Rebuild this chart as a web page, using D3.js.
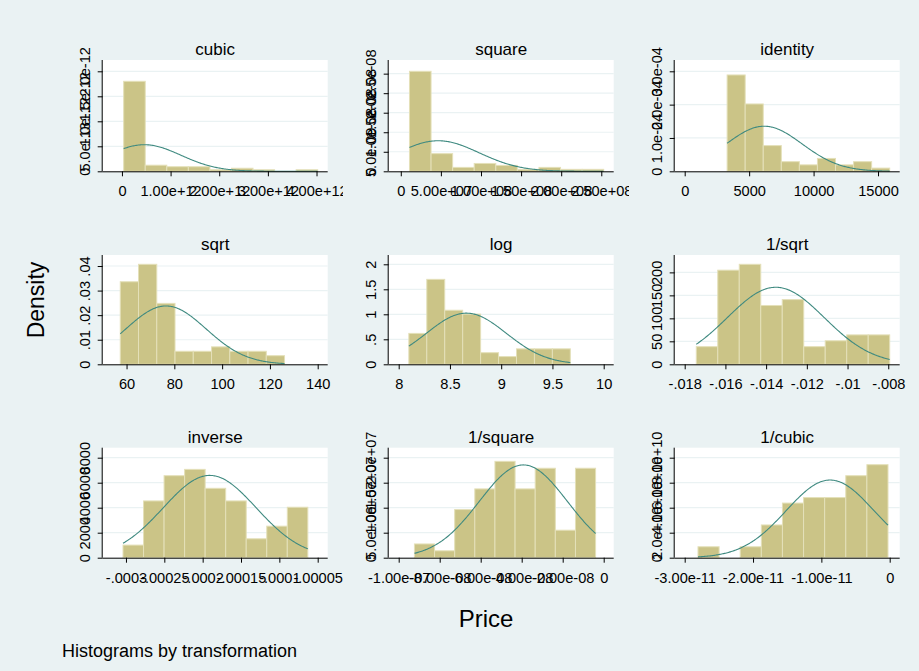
<!DOCTYPE html>
<html>
<head>
<meta charset="utf-8">
<script src="https://cdn.jsdelivr.net/npm/d3@7"></script>
<style>
  html, body { margin: 0; padding: 0; background: #eaf2f3; }
  svg { display: block; }
  text { font-family: "Liberation Sans", Arial, Helvetica, sans-serif; fill: #000; }
</style>
</head>
<body>
<svg id="chart" width="919" height="671"></svg>
<script>
// Price under the ladder of powers: 74 cars, 9 equal-width bins per panel.
const transforms = ["cubic", "square", "identity", "sqrt", "log", "1/sqrt", "inverse", "1/square", "1/cubic"];

// smallest and largest transformed value (bins run between them)
const dataMin = [3.5644e10, 1.0831e7, 3291, 57.367, 8.0990, -0.017431, -3.0386e-4, -9.2330e-8, -2.8055e-11];
const dataMax = [4.0242e12, 2.5300e8, 15906, 126.119, 9.6744, -0.007929, -6.287e-5, -3.9526e-9, -2.4850e-13];

// histogram densities, one value per bin
const densCubic    = [1.80e-12, 1.22e-13, 9.15e-14, 9.15e-14, 3.05e-14, 6.10e-14, 3.05e-14, 0, 3.05e-14];
const densSquare   = [2.56e-8, 4.52e-9, 1.00e-9, 2.01e-9, 1.51e-9, 5.0e-10, 1.00e-9, 5.0e-10, 5.0e-10];
const densIdentity = [2.89e-4, 2.02e-4, 7.71e-5, 2.89e-5, 1.93e-5, 3.86e-5, 1.93e-5, 2.89e-5, 9.6e-6];
const densSqrt     = [0.0336, 0.0407, 0.0248, 0.0053, 0.0053, 0.0071, 0.0053, 0.0053, 0.0035];
const densLog      = [0.618, 1.699, 1.081, 1.004, 0.232, 0.154, 0.309, 0.309, 0.309];
const densInvSqrt  = [38.4, 204.8, 217.6, 128.0, 140.8, 38.4, 51.2, 64.0, 64.0];
const densInverse  = [1009, 4542, 6561, 7066, 5552, 4542, 1514, 2523, 4037];
const densInvSq    = [2.75e6, 1.38e6, 9.63e6, 1.376e7, 1.927e7, 1.376e7, 1.789e7, 5.50e6, 1.789e7];
const densInvCubic = [8.75e9, 0, 8.75e9, 2.62e10, 4.37e10, 4.81e10, 4.81e10, 6.56e10, 7.44e10];
const densities = [densCubic, densSquare, densIdentity, densSqrt, densLog, densInvSqrt, densInverse, densInvSq, densInvCubic];

// fitted normal overlay: mean and standard deviation of each transformed variable
const normMean = [0.46e12, 4.67e7, 6165.3, 76.5, 8.66, -0.013525, -1.908e-4, -3.92e-8, -8.72e-12];
const normSd   = [0.75e12, 5.10e7, 2949.5, 16.8, 0.39, 0.00238, 6.06e-5, 2.15e-8, 6.42e-12];

// x-axis range of each panel
const xLo = [-0.19e12, -2.6e6, 0, 54.2, 8, -0.018, -3.173e-4, -1e-7, -3e-11];
const xHi = [4.0242e12, 2.53e8, 15906, 140, 10, -0.007929, -5e-5, 0, 0];

// axis ticks and their labels
const xTicks = [
  [0, 1e12, 2e12, 3e12, 4e12],
  [0, 5e7, 1e8, 1.5e8, 2e8, 2.5e8],
  [0, 5000, 10000, 15000],
  [60, 80, 100, 120, 140],
  [8, 8.5, 9, 9.5, 10],
  [-0.018, -0.016, -0.014, -0.012, -0.01, -0.008],
  [-3e-4, -2.5e-4, -2e-4, -1.5e-4, -1e-4, -5e-5],
  [-1e-7, -8e-8, -6e-8, -4e-8, -2e-8, 0],
  [-3e-11, -2e-11, -1e-11, 0]
];
const xTickLabels = [
  ["0", "1.00e+12", "2.00e+12", "3.00e+12", "4.00e+12"],
  ["0", "5.00e+07", "1.00e+08", "1.50e+08", "2.00e+08", "2.50e+08"],
  ["0", "5000", "10000", "15000"],
  ["60", "80", "100", "120", "140"],
  ["8", "8.5", "9", "9.5", "10"],
  ["-.018", "-.016", "-.014", "-.012", "-.01", "-.008"],
  ["-.0003", "-.00025", "-.0002", "-.00015", "-.0001", "-.00005"],
  ["-1.00e-07", "-8.00e-08", "-6.00e-08", "-4.00e-08", "-2.00e-08", "0"],
  ["-3.00e-11", "-2.00e-11", "-1.00e-11", "0"]
];
const yTicks = [
  [0, 5e-13, 1e-12, 1.5e-12, 2e-12],
  [0, 5e-9, 1e-8, 1.5e-8, 2e-8, 2.5e-8],
  [0, 1e-4, 2e-4, 3e-4],
  [0, 0.01, 0.02, 0.03, 0.04],
  [0, 0.5, 1, 1.5, 2],
  [0, 50, 100, 150, 200],
  [0, 2000, 4000, 6000, 8000],
  [0, 5e6, 1e7, 1.5e7, 2e7],
  [0, 2e10, 4e10, 6e10, 8e10]
];
const yTickLabels = [
  ["0", "5.0e-13", "1.0e-12", "1.5e-12", "2.0e-12"],
  ["0", "5.0e-09", "1.0e-08", "1.5e-08", "2.0e-08", "2.5e-08"],
  ["0", "1.0e-04", "2.0e-04", "3.0e-04"],
  ["0", ".01", ".02", ".03", ".04"],
  ["0", ".5", "1", "1.5", "2"],
  ["0", "50", "100", "150", "200"],
  ["0", "2000", "4000", "6000", "8000"],
  ["0", "5.0e+06", "1.0e+07", "1.5e+07", "2.0e+07"],
  ["0", "2.0e+10", "4.0e+10", "6.0e+10", "8.0e+10"]
];

const yTitle = "Density";
const xTitle = "Price";
const note = "Histograms by transformation";

// ---- layout ----
const colLeft = [102.7, 388.7, 674.7];
const plotW = 225;
const cellLeft = -45.7, cellRight = 240.3;   // each sub-graph's horizontal extent, relative to its plot
const rowTop = [60, 255, 447.7];
const rowBottom = [171.3, 364.3, 557.7];
const padX = 10;          // inner margin of the plot region along x
const scaleH = 100;       // pixel height of the y range
const nBins = 9;

const colors = {
  bg: "#eaf2f3",
  plot: "#ffffff",
  grid: "#eaf2f3",
  barFill: "#cbc487",
  barLine: "#e4e0b9",
  normal: "#3f8a80",
  axis: "#000000"
};

const svg = d3.select("#chart");
svg.append("rect").attr("width", 919).attr("height", 671).attr("fill", colors.bg);
const defs = svg.append("defs");

transforms.forEach((name, i) => {
  const col = i % 3, row = Math.floor(i / 3);
  const L = colLeft[col], R = L + plotW;
  const T = rowTop[row], B = rowBottom[row];
  const dens = densities[i];

  const x = d3.scaleLinear().domain([xLo[i], xHi[i]]).range([L + padX, R - padX]);
  const yMax = Math.max(d3.max(yTicks[i]), d3.max(dens));
  const y = d3.scaleLinear().domain([0, yMax]).range([B, B - scaleH]);

  // every sub-graph is clipped to its own cell
  const clipId = `cell-${i}`;
  defs.append("clipPath").attr("id", clipId).append("rect")
    .attr("x", L + cellLeft).attr("y", T - 40)
    .attr("width", cellRight - cellLeft).attr("height", B - T + 80);

  const g = svg.append("g").attr("class", "panel").attr("clip-path", `url(#${clipId})`);

  // plot region
  g.append("rect").attr("x", L).attr("y", T).attr("width", R - L).attr("height", B - T)
    .attr("fill", colors.plot);

  // grid lines
  g.selectAll("line.grid").data(yTicks[i].filter(v => v !== 0)).join("line")
    .attr("class", "grid")
    .attr("x1", L).attr("x2", R)
    .attr("y1", d => y(d)).attr("y2", d => y(d))
    .attr("stroke", colors.grid).attr("stroke-width", 1.2);

  // bins
  const w = (dataMax[i] - dataMin[i]) / nBins;
  const bins = dens.map((d, k) => ({ x0: dataMin[i] + k * w, x1: dataMin[i] + (k + 1) * w, d }))
    .filter(b => b.d > 0);
  g.selectAll("rect.bar").data(bins).join("rect")
    .attr("class", "bar")
    .attr("x", b => x(b.x0)).attr("width", b => x(b.x1) - x(b.x0))
    .attr("y", b => y(b.d)).attr("height", b => y(0) - y(b.d))
    .attr("fill", colors.barFill)
    .attr("stroke", colors.barLine).attr("stroke-width", 1);

  // fitted normal density across the data range
  const m = normMean[i], s = normSd[i];
  const pdf = v => Math.exp(-0.5 * ((v - m) / s) ** 2) / (s * Math.sqrt(2 * Math.PI));
  const xs = d3.range(0, 201).map(k => dataMin[i] + (dataMax[i] - dataMin[i]) * k / 200);
  g.append("path")
    .attr("d", d3.line().x(v => x(v)).y(v => y(pdf(v)))(xs))
    .attr("fill", "none").attr("stroke", colors.normal).attr("stroke-width", 1.1);

  // x axis
  const xAxis = d3.axisBottom(x).tickValues(xTicks[i])
    .tickFormat((d, k) => xTickLabels[i][k]).tickSize(5).tickPadding(9.5);
  const gx = g.append("g").attr("transform", `translate(0,${B})`).call(xAxis);
  gx.select(".domain").attr("d", `M${L},0.5H${R}`).attr("stroke", colors.axis);
  gx.selectAll("text").attr("font-size", 14.6).attr("font-family", null);

  // y axis with vertical labels
  const yAxis = d3.axisLeft(y).tickValues(yTicks[i])
    .tickFormat((d, k) => yTickLabels[i][k]).tickSize(5).tickPadding(0);
  const gy = g.append("g").attr("transform", `translate(${L},0)`).call(yAxis);
  gy.select(".domain").attr("d", `M-0.5,${T}V${B}`).attr("stroke", colors.axis);
  gy.selectAll(".tick text")
    .attr("font-size", 14.6).attr("font-family", null)
    .attr("x", null).attr("dy", null)
    .attr("text-anchor", "middle")
    .attr("transform", "translate(-12.5,0) rotate(-90)");

  // panel title
  g.append("text").attr("x", (L + R) / 2).attr("y", T - 5)
    .attr("text-anchor", "middle").attr("font-size", 17).text(name);
});

// axis titles and note
svg.append("text").attr("transform", "translate(44,300) rotate(-90)")
  .attr("text-anchor", "middle").attr("font-size", 23).text(yTitle);
svg.append("text").attr("x", 486).attr("y", 627)
  .attr("text-anchor", "middle").attr("font-size", 24).text(xTitle);
svg.append("text").attr("x", 62).attr("y", 657)
  .attr("font-size", 18).text(note);
</script>
</body>
</html>
